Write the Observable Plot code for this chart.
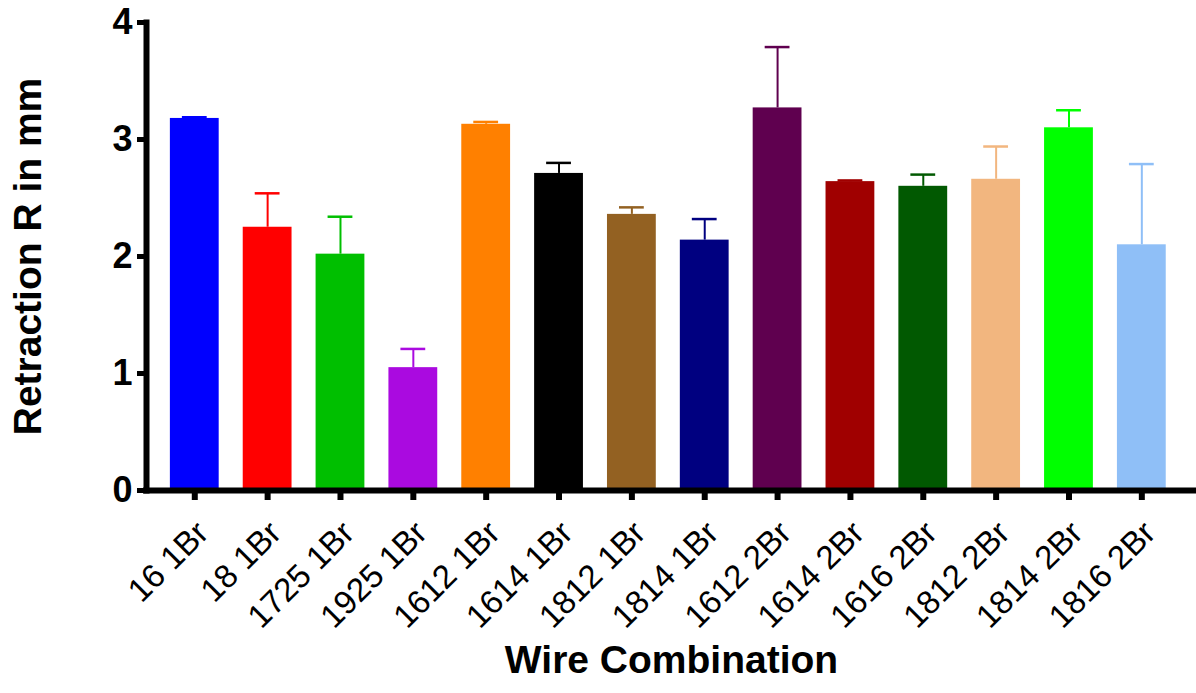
<!DOCTYPE html>
<html>
<head>
<meta charset="utf-8">
<script src="https://cdn.jsdelivr.net/npm/d3@7"></script>
<script src="https://cdn.jsdelivr.net/npm/@observablehq/plot@0.6"></script>
<style>
  html, body { margin: 0; padding: 0; background: #fff; }
  #chart svg { display: block; }
</style>
</head>
<body>
<div id="chart"></div>
<script>
const categories = ["16 1Br", "18 1Br", "1725 1Br", "1925 1Br", "1612 1Br", "1614 1Br", "1812 1Br",
  "1814 1Br", "1612 2Br", "1614 2Br", "1616 2Br", "1812 2Br", "1814 2Br", "1816 2Br"];
const means = [3.18, 2.25, 2.02, 1.05, 3.13, 2.71, 2.36, 2.14, 3.27, 2.64, 2.60, 2.66, 3.10, 2.10];
const errors = [0.01, 0.29, 0.32, 0.16, 0.02, 0.09, 0.06, 0.18, 0.52, 0.01, 0.10, 0.28, 0.15, 0.69];
const colors = ["#0000ff", "#ff0000", "#00bf00", "#aa0ae0", "#ff8000", "#000000", "#936122",
  "#000080", "#5f004f", "#a00000", "#015901", "#f2b67f", "#00ff00", "#8fbff7"];
const yTicks = [0, 1, 2, 3, 4];
const xTitle = "Wire Combination";
const yTitle = "Retraction R in mm";

const data = categories.map((c, i) => ({cat: c, mean: means[i], upper: means[i] + errors[i], color: colors[i]}));
const font = "'Liberation Sans', Arial, Helvetica, sans-serif";

const chart = Plot.plot({
  width: 1196,
  height: 693,
  marginTop: 22,
  marginBottom: 203,
  marginLeft: 146,
  marginRight: 0,
  style: {fontFamily: font, background: "#fff", color: "#000"},
  x: {domain: categories, paddingInner: 0.33, paddingOuter: 0.3716, align: 0.441, round: false},
  y: {domain: [0, 4]},
  marks: [
    Plot.barY(data, {x: "cat", y: "mean", fill: "color"}),
    Plot.ruleX(data, {x: "cat", y1: "mean", y2: "upper", stroke: "color", strokeWidth: 2}),
    Plot.tickY(data, {x: "cat", y: "upper", stroke: "color", strokeWidth: 2.5, inset: 12}),
    Plot.axisY({ticks: yTicks, tickFormat: d3.format("d"), label: null, tickSize: 9, tickPadding: 5,
      strokeWidth: 5, fontSize: 36, fontWeight: "bold", strokeLinecap: "butt"}),
    Plot.axisX({label: null, tickSize: 10, strokeWidth: 6, tickFormat: () => ""}),
    Plot.axisX({label: null, tickSize: 0, tickPadding: 37, tickRotate: -45, fontSize: 33, dx: 8, dy: 0}),
    Plot.frame({anchor: "left", strokeWidth: 6, strokeLinecap: "square"}),
    Plot.ruleY([0], {strokeWidth: 6, strokeLinecap: "square"}),
    Plot.text([yTitle], {frameAnchor: "left", textAnchor: "middle", rotate: -90, dx: -118, fontSize: 39, fontWeight: "bold"}),
    Plot.text([xTitle], {frameAnchor: "bottom", dy: 182, fontSize: 39, fontWeight: "bold"})
  ]
});
document.getElementById("chart").appendChild(chart);
</script>
</body>
</html>
